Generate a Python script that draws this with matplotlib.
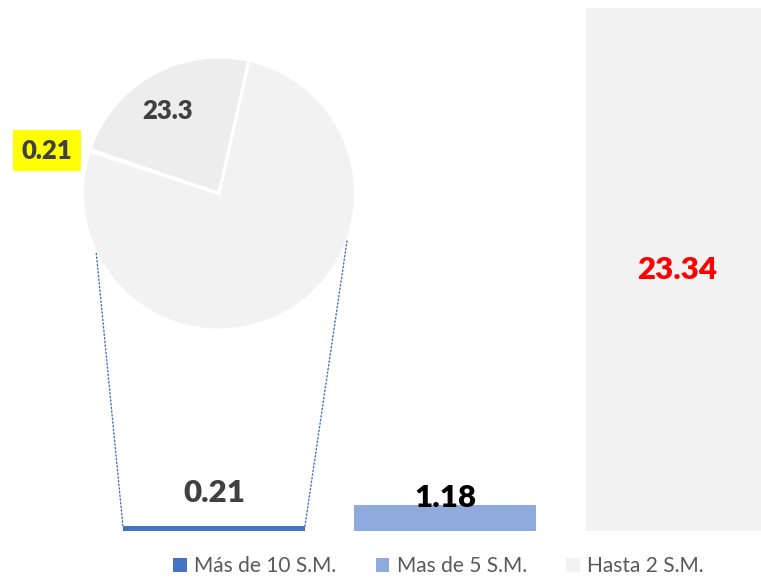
import numpy as np
import matplotlib.pyplot as plt
from matplotlib.patches import Patch, ConnectionPatch

plt.rcParams['font.family'] = ['Lato', 'DejaVu Sans']

# data
categories = ['Más de 10 S.M.', 'Mas de 5 S.M.', 'Hasta 2 S.M.']
values = [0.21, 1.18, 23.34]
bar_colors = ['#4472C4', '#8FAADC', '#F2F2F2']
label_colors = ['#404040', 'black', '#FF0000']

pie_values = [23.3, 0.21, 76.49]
pie_labels = ['23.3', '0.21', '']
pie_colors = ['#EDEDED', '#F2F2F2', '#F2F2F2']

W, H = 761, 578
fig = plt.figure(figsize=(W / 100, H / 100), dpi=100)

# bar axes (pixel layout)
ax = fig.add_axes([0, 47 / H, 1, 531 / H])
ax.axis('off')
x = np.arange(len(values))
bars = ax.bar(x, values, width=0.786, color=bar_colors)
ax.set_xlim(-0.924, 2.363)
ax.set_ylim(0, 23.70)

# value labels
offsets = [24, 5, None]
for i, (v, c) in enumerate(zip(values, label_colors)):
    if offsets[i] is None:
        ax.text(i, v / 2, f'{v:.2f}', ha='center', va='center',
                fontsize=22.5, fontweight='heavy', color=c)
    else:
        ax.annotate(f'{v:.2f}', (i, v), xytext=(0, offsets[i]),
                    textcoords='offset points', ha='center', va='center',
                    fontsize=22.5, fontweight='heavy', color=c)

# pie on top of first bar
cx, cy, r = 219, 193.5, 136.5
pax = fig.add_axes([(cx - r) / W, 1 - (cy + r) / H, 2 * r / W, 2 * r / H])
wedges, _ = pax.pie(pie_values, colors=pie_colors, startangle=77.3,
                    counterclock=True,
                    wedgeprops=dict(edgecolor='white', linewidth=2.2))
pax.set_xlim(-1, 1)
pax.set_ylim(-1, 1)
pax.set_aspect('equal')
pax.axis('off')

pax.text(-0.377, 0.604, pie_labels[0], ha='center', va='center',
         fontsize=18.5, fontweight='heavy', color='#404040')
pax.text(-1.26, 0.315, pie_labels[1], ha='center', va='center',
         fontsize=18.5, fontweight='heavy', color='#404040', clip_on=False,
         bbox=dict(facecolor='#FFFF00', edgecolor='none', pad=6))

# connector lines pie -> first bar
half = bars[0].get_width() / 2
for ang, bx in [(206, -half), (-20.3, half)]:
    a = np.deg2rad(ang)
    con = ConnectionPatch(xyA=(np.cos(a), np.sin(a)), coordsA=pax.transData,
                          xyB=(bx, values[0]), coordsB=ax.transData,
                          color='#4472C4', linestyle=':', linewidth=1.0)
    fig.add_artist(con)

# legend
handles = [Patch(facecolor=c, edgecolor='none') for c in bar_colors]
fig.legend(handles, categories, loc='center', bbox_to_anchor=(0.576, 0.02),
           ncol=3, frameon=False, fontsize=15, labelcolor='#595959',
           handlelength=0.65, handleheight=0.65, handletextpad=0.35,
           columnspacing=1.9)

fig.savefig('out.png', dpi=100)
